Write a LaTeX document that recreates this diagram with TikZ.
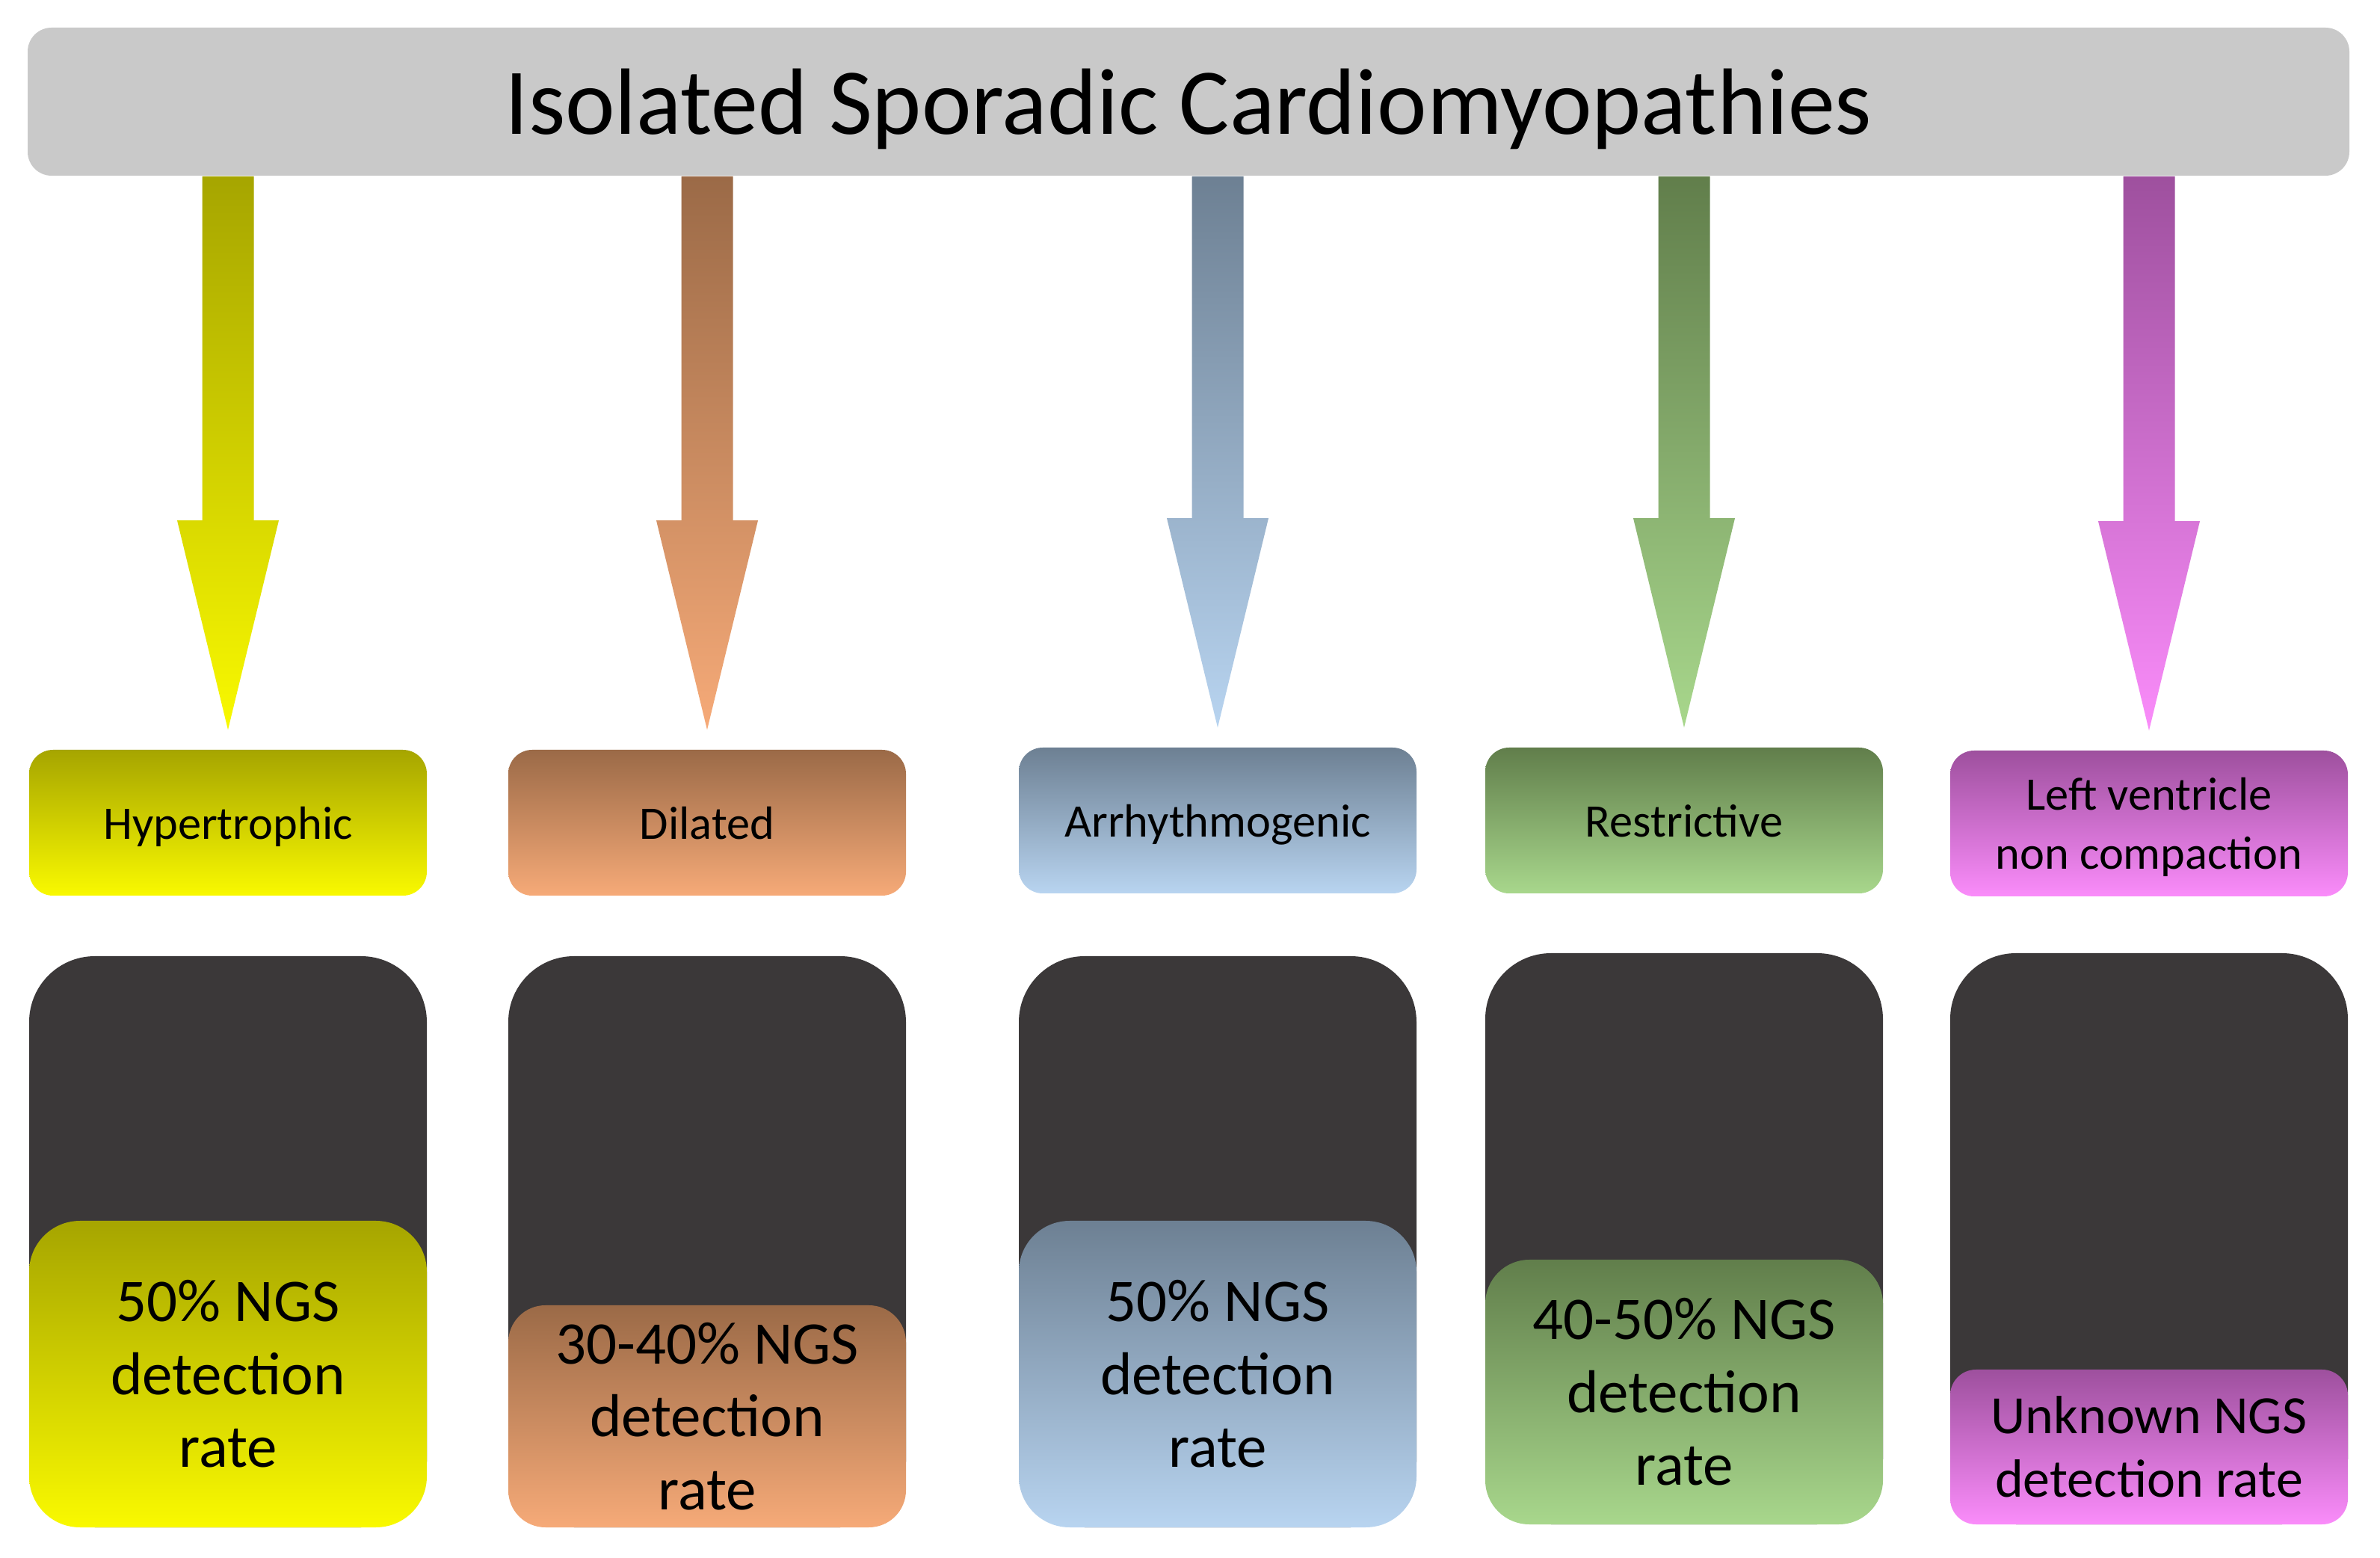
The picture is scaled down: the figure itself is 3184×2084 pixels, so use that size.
\documentclass[tikz,border=0pt]{standalone}
\usepackage{fontspec}
\setmainfont{Carlito}
\usetikzlibrary{calc}
\definecolor{bargray}{HTML}{C9C9C9}
\definecolor{darkbox}{HTML}{3B3839}
\definecolor{hyT}{HTML}{A6A500}
\definecolor{hyB}{HTML}{F9F900}
\definecolor{diT}{HTML}{9B6A47}
\definecolor{diB}{HTML}{F6AA78}
\definecolor{arT}{HTML}{6D8093}
\definecolor{arB}{HTML}{B8D4F0}
\definecolor{reT}{HTML}{617E4B}
\definecolor{reB}{HTML}{A8D78C}
\definecolor{lvT}{HTML}{9E509E}
\definecolor{lvB}{HTML}{FA8CFA}
\newcommand\blockarr[3]{%
  \shade[top color=#2, bottom color=#3]
    ($(title.south -| #1.north)+(-34.5,0)$) --
    ($(#1.north)+(-34.5,-306)$) --
    ($(#1.north)+(-68,-306)$) --
    ($(#1.north)+(0,-26)$) --
    ($(#1.north)+(68,-306)$) --
    ($(#1.north)+(34.5,-306)$) --
    ($(title.south -| #1.north)+(34.5,0)$) -- cycle;}
\begin{document}
\begin{tikzpicture}[x=0.25pt,y=-0.25pt,
  titlebox/.style={rectangle, fill=bargray, rounded corners=8pt, minimum width=776.5pt, minimum height=49.5pt, inner sep=0pt, text depth=0pt, font=\fontsize{31.5pt}{37.8pt}\selectfont},
  catbox/.style={rectangle, rounded corners=8pt, minimum width=133pt, minimum height=48.75pt, inner sep=0pt, text depth=0pt, align=center, font=\fontsize{15.6pt}{19.75pt}\selectfont},
  darkcol/.style={rectangle, fill=darkbox, rounded corners=22pt, minimum width=133pt, minimum height=191pt, inner sep=0pt},
  ratebox/.style={rectangle, inner sep=0pt, minimum width=133pt, anchor=south, align=center, font=\fontsize{20.25pt}{24.4pt}\selectfont}
]
\fill[white] (0,0) rectangle (3184,2084);
\useasboundingbox (0,0) rectangle (3184,2084);

\node[titlebox] (title) at (1590,136) {Isolated Sporadic Cardiomyopathies};

\node[catbox, top color=hyT, bottom color=hyB] (c1) at (305,1100.5) {Hypertrophic};
\node[catbox, top color=diT, bottom color=diB] (c2) at (946,1100.5) {Dilated};
\node[catbox, top color=arT, bottom color=arB] (c3) at (1629,1097.5) {Arrhythmogenic};
\node[catbox, top color=reT, bottom color=reB] (c4) at (2253,1097.5) {Restrictive};
\node[catbox, top color=lvT, bottom color=lvB] (c5) at (2875,1101.5) {Left ventricle\\non compaction};

\blockarr{c1}{hyT}{hyB}
\blockarr{c2}{diT}{diB}
\blockarr{c3}{arT}{arB}
\blockarr{c4}{reT}{reB}
\blockarr{c5}{lvT}{lvB}

\node[darkcol] (d1) at (305,1661) {};
\node[darkcol] (d2) at (946,1661) {};
\node[darkcol] (d3) at (1629,1661) {};
\node[darkcol] (d4) at (2253,1657) {};
\node[darkcol] (d5) at (2875,1657) {};

\node[ratebox, top color=hyT, bottom color=hyB, rounded corners=17pt, minimum height=102.5pt] (r1) at (d1.south) {50\% NGS\\detection\\rate};
\node[ratebox, top color=diT, bottom color=diB, rounded corners=12.4pt, minimum height=74.25pt] (r2) at (d2.south) {30-40\% NGS\\detection\\rate};
\node[ratebox, top color=arT, bottom color=arB, rounded corners=17pt, minimum height=102.5pt] (r3) at (d3.south) {50\% NGS\\detection\\rate};
\node[ratebox, top color=reT, bottom color=reB, rounded corners=14.75pt, minimum height=88.5pt] (r4) at (d4.south) {40-50\% NGS\\detection\\rate};
\node[ratebox, top color=lvT, bottom color=lvB, rounded corners=8.6pt, minimum height=51.75pt, font=\fontsize{18pt}{21.25pt}\selectfont] (r5) at (d5.south) {Unknown NGS\\detection rate};
\end{tikzpicture}
\end{document}
